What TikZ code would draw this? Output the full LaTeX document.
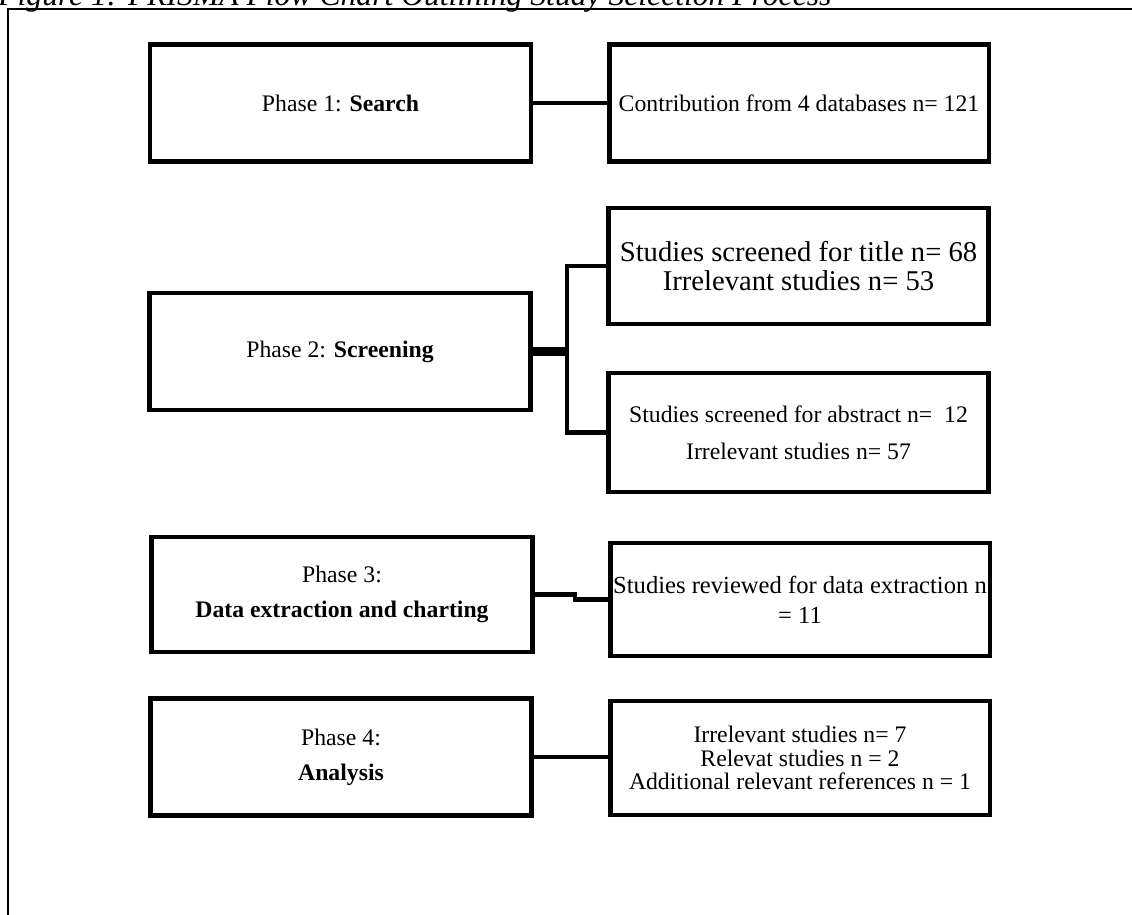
\documentclass[tikz,border=0pt]{standalone}
\usepackage{fontspec}
\setmainfont{Liberation Serif}

\begin{document}
\begin{tikzpicture}[x=0.02cm, y=-0.02cm, font=\fontsize{13.5}{16}\selectfont]
\tikzset{
  phase/.style={draw, line width=2.8pt, minimum width=7.62cm, minimum height=2.34cm,
    align=center, inner sep=2pt},
  count/.style={draw, line width=2.8pt, minimum width=7.6cm, minimum height=2.34cm,
    align=center, inner sep=2pt},
  link/.style={line width=2.6pt},
}
\useasboundingbox (0,0) rectangle (1132,914);

% ---- frame and caption ----
\draw[line width=1.1pt] (1140,9) -- (8,9) -- (8,920);
\node[anchor=base west, inner sep=0pt, font=\fontsize{18}{20}\selectfont\itshape] (caption)
  at (-2,5) {Figure 1: PRISMA Flow Chart Outlining Study Selection Process};

% =====================================================================
% Phase 1
% =====================================================================
\node[phase] (ph1) at (340.5,103) {Phase 1: \textbf{Search}};
\node[count] (out1) at (799,103) {Contribution from 4 databases n= 121};
\draw[link] (ph1.east) -- (out1.west);

% =====================================================================
% Phase 2
% =====================================================================
\node[count, minimum height=2.32cm, font=\fontsize{16.3}{16}\selectfont] (out2a) at (798.5,266)
  {Studies screened for title n= 68\\ Irrelevant studies n= 53};
\node[phase] (ph2) at (340,351.5) {Phase 2: \textbf{Screening}};
\node[count, minimum height=2.38cm] (out2b) at (798.5,432.5)
  {Studies screened for abstract n=\ \ 12\\[5pt] Irrelevant studies n= 57};
\coordinate (fork) at (567,351.5);
\draw[link, line width=5pt] (ph2.east) -- (fork);
\draw[link] (out2a.west) -| (fork) |- (out2b.west);

% =====================================================================
% Phase 3
% =====================================================================
\node[phase, minimum height=2.3cm] (ph3) at (342,594.5)
  {Phase 3:\\[4pt] \textbf{Data extraction and charting}};
\node[count, minimum height=2.26cm, inner xsep=0pt, font=\fontsize{14}{16}\selectfont] (out3)
  at (800,599.5) {Studies reviewed for data extraction n\\[1pt] = 11};
\draw[link] (ph3.east) -- ++(40,0) |- (out3.west);

% =====================================================================
% Phase 4
% =====================================================================
\node[phase] (ph4) at (341,757) {Phase 4:\\[4pt] \textbf{Analysis}};
\node[count, minimum height=2.28cm] (out4) at (800,758)
  {Irrelevant studies n= 7\\[-2.5pt] Relevat studies n = 2\\[-2.5pt] Additional relevant references n = 1};
\draw[link] (ph4.east) -- (ph4.east -| out4.west);

\end{tikzpicture}
\end{document}
